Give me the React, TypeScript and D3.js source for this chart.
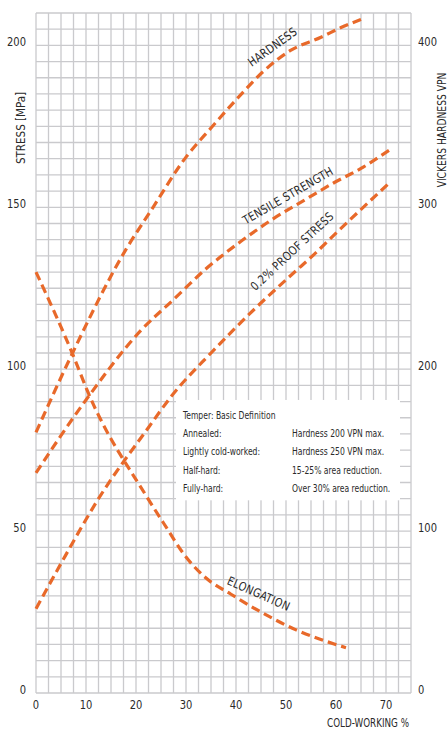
import React from "react";
import { scaleLinear, line, curveMonotoneX, range } from "d3";

// cold-working % (x) against stress MPa (left) or VPN (right)
const hardnessX = [0, 7, 18, 23, 30, 35, 40.5, 45.5, 51, 57, 61, 65];
const hardnessVPN = [161, 208, 274, 298, 331, 349, 368, 384, 397, 405, 411, 416];

const tensileX = [0, 10, 21, 27.5, 34, 41, 47.5, 54, 59.5, 65, 71];
const tensileMPa = [68, 90.5, 112, 121.5, 131, 139.5, 146.5, 152.5, 157.5, 162, 168];

const proofX = [0, 5, 12.5, 22.5, 27, 35, 44, 51, 56, 60, 71];
const proofMPa = [26, 40, 60, 82, 91.5, 105, 119, 129, 136, 142, 158];

const elongX = [0, 7.5, 10.5, 22, 25.5, 30, 34, 39, 45, 52, 62];
const elongVal = [130, 104, 92.5, 61, 52.5, 42, 35.5, 30.5, 25, 19.5, 14];

const xTicks = [0, 10, 20, 30, 40, 50, 60, 70];
const leftTicks = [0, 50, 100, 150, 200];
const rightTicks = [0, 100, 200, 300, 400];

const legendTitle = "Temper: Basic Definition";
const legendNames = ["Annealed:", "Lightly cold-worked:", "Half-hard:", "Fully-hard:"];
const legendDefs = [
  "Hardness 200 VPN max.",
  "Hardness 250 VPN max.",
  "15-25% area reduction.",
  "Over 30% area reduction.",
];

const W = 448;
const H = 730;
const FONT = "'Liberation Sans Narrow', 'DejaVu Sans Condensed', 'Roboto', sans-serif";
const ORANGE = "#e8692a";
const GRID = "#cacacd";
const TEXT = "#2a2a2a";
const SQ = 0.85; // horizontal squeeze to mimic the narrow face

type Pt = [number, number];
const zip = (xs: number[], ys: number[]): Pt[] => xs.map((x, i) => [x, ys[i]]);

const Narrow = ({
  x,
  y,
  anchor = "start",
  children,
  ...rest
}: {
  x: number;
  y: number;
  anchor?: string;
  children: React.ReactNode;
  [k: string]: any;
}) => (
  <text transform={`translate(${x},${y}) scale(${SQ},1)`} textAnchor={anchor} {...rest}>
    {children}
  </text>
);

export default function App() {
  const x = scaleLinear().domain([0, 75]).range([36, 411]);
  const yL = scaleLinear().domain([0, 210]).range([693, 13]);
  const yR = scaleLinear().domain([0, 420]).range([693, 13]);

  const lineL = line<Pt>()
    .x((d) => x(d[0]))
    .y((d) => yL(d[1]))
    .curve(curveMonotoneX);
  const lineR = line<Pt>()
    .x((d) => x(d[0]))
    .y((d) => yR(d[1]))
    .curve(curveMonotoneX);

  const curves = [
    lineR(zip(hardnessX, hardnessVPN)),
    lineL(zip(tensileX, tensileMPa)),
    lineL(zip(proofX, proofMPa)),
    lineL(zip(elongX, elongVal)),
  ];

  // curve labels, placed in data units
  const notes = [
    { text: "HARDNESS", at: [47.8, 198.5] as Pt, angle: -36 },
    { text: "TENSILE STRENGTH", at: [50.8, 152.5] as Pt, angle: -30 },
    { text: "0.2% PROOF STRESS", at: [51.8, 135.5] as Pt, angle: -43 },
    { text: "ELONGATION", at: [44.2, 29.5] as Pt, angle: 24 },
  ];

  const box = { x0: 28, x1: 72.8, y0: 59.5, y1: 90.5 };
  const bx = x(box.x0);
  const by = yL(box.y1);

  return (
    <div style={{ position: "absolute", left: 0, top: 0, width: W, height: H, overflow: "hidden", background: "#fff" }}>
      <svg width={W} height={H} style={{ display: "block" }} fontFamily={FONT}>
        <rect width={W} height={H} fill="#fff" />
        {/* grid */}
        <g stroke={GRID} strokeWidth={1.3}>
          {range(0, 75.01, 2.5).map((v) => (
            <line key={"v" + v} x1={x(v)} x2={x(v)} y1={yL(0)} y2={yL(210)} />
          ))}
          {range(0, 210.01, 5).map((v) => (
            <line key={"h" + v} x1={x(0)} x2={x(75)} y1={yL(v)} y2={yL(v)} />
          ))}
        </g>

        {/* curves */}
        {curves.map((d, i) => (
          <path
            key={i}
            d={d ?? ""}
            fill="none"
            stroke={ORANGE}
            strokeWidth={3.2}
            strokeDasharray="9 5"
          />
        ))}

        {notes.map((n) => (
          <text
            key={n.text}
            transform={`translate(${x(n.at[0])},${yL(n.at[1])}) rotate(${n.angle}) scale(0.92,1)`}
            textAnchor="middle"
            fontSize={12}
            fill={TEXT}
            letterSpacing={0.3}
          >
            {n.text}
          </text>
        ))}

        {/* legend box */}
        <rect
          x={bx}
          y={by}
          width={x(box.x1) - bx}
          height={yL(box.y0) - by}
          fill="#fff"
        />
        <g fontSize={10} fill={TEXT}>
          <Narrow x={bx + 7} y={by + 19}>
            {legendTitle}
          </Narrow>
          {legendNames.map((t, i) => (
            <g key={t}>
              <Narrow x={bx + 7} y={by + 37 + i * 18.3}>
                {t}
              </Narrow>
              <Narrow x={bx + 116} y={by + 37 + i * 18.3}>
                {legendDefs[i]}
              </Narrow>
            </g>
          ))}
        </g>

        {/* axes labels */}
        <g fontSize={13} fill={TEXT}>
          {leftTicks.map((v) => (
            <Narrow key={"l" + v} x={26} y={yL(v) + 1} anchor="end">
              {v}
            </Narrow>
          ))}
          {rightTicks.map((v) => (
            <Narrow key={"r" + v} x={418} y={yR(v) + 1}>
              {v}
            </Narrow>
          ))}
          {xTicks.map((v) => (
            <Narrow key={"x" + v} x={x(v)} y={709} anchor="middle">
              {v}
            </Narrow>
          ))}
        </g>
        <text transform="translate(25,128) rotate(-90)" textAnchor="middle" fontSize={11.5} fill={TEXT}>
          STRESS [MPa]
        </text>
        <text transform={`translate(446,130) rotate(-90) scale(${SQ},1)`} textAnchor="middle" fontSize={12} fill={TEXT}>
          VICKERS HARDNESS VPN
        </text>
        <Narrow x={327} y={727} fontSize={11.5} fill={TEXT}>
          COLD-WORKING %
        </Narrow>
      </svg>
    </div>
  );
}
